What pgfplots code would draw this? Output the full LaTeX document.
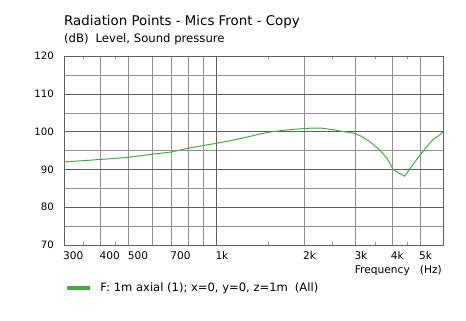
\documentclass[border=0pt]{standalone}
\usepackage{fontspec}
\setmainfont{DejaVu Sans}
\usepackage{pgfplots}
\pgfplotsset{compat=1.18}
\definecolor{curve}{RGB}{76,166,76}
\definecolor{gridmaj}{RGB}{96,96,96}
\definecolor{gridmin}{RGB}{145,145,145}
\begin{document}
\begin{tikzpicture}
\begin{axis}[
  scale only axis, width=379bp, height=189bp,
  anchor=south west, at={(0bp,0bp)},
  xmode=log, xmin=300, xmax=6000, ymin=70, ymax=120,
  /pgf/number format/assume math mode=true,
  xtick={300,400,500,600,700,800,900,2000,3000,4000,5000},
  xticklabels={300,400,500,,700,,,2k,3k,4k,5k},
  extra x ticks={1000}, extra x tick labels={1k},
  extra x tick style={major grid style={gridmaj}},
  minor xtick={350,450,1500,2500,3500,4500},
  ytick={70,75,...,120},
  yticklabels={70,,80,,90,,100,,110,,120},
  extra y ticks={80,90,100,110}, extra y tick labels={},
  extra y tick style={major grid style={gridmaj}},
  xmajorgrids, ymajorgrids,
  major grid style={gridmin},
  major tick length=0pt,
  minor tick length=3bp,
  minor tick style={gridmin},
  axis line style={gridmaj},
  tick style={gridmin},
  xticklabel style={anchor=north west, inner sep=0pt, xshift=-1bp, yshift=-6bp, font=\fontsize{10.6}{12}\selectfont},
  yticklabel style={anchor=east, inner sep=0pt, xshift=-10bp, font=\fontsize{10.2}{12}\selectfont},
  legend style={at={(axis description cs:0.0026,-0.2275)}, anchor=west, draw=none, fill=none,
    inner sep=0pt, outer sep=0pt, font=\fontsize{11.6}{13}\selectfont,
    nodes={inner sep=0pt}, /tikz/every odd column/.append style={column sep=9bp}},
  legend image code/.code={\draw[line width=3.5bp, curve] (0bp,0bp) -- (23bp,0bp);},
]
\addplot[curve, line width=1bp] coordinates {
(300,92.0) (350,92.3) (400,92.65) (450,92.9) (500,93.2) (600,94.0) (700,94.6)
(800,95.6) (900,96.3) (1000,96.9) (1100,97.5) (1200,98.1) (1300,98.7) (1400,99.3)
(1500,99.8) (1700,100.35) (1840,100.6) (2000,100.8) (2100,100.9) (2300,100.9)
(2520,100.5) (2730,100.0) (2990,99.55) (3150,98.7) (3370,97.3) (3640,95.1)
(3860,92.9) (4040,90.1) (4150,89.4) (4430,88.2) (4670,90.7) (5000,93.8)
(5390,96.9) (5530,97.8) (6000,99.8)
};
\addlegendentry{F: 1m axial (1); x=0, y=0, z=1m\hspace{7bp}(All)}
\end{axis}
\node[anchor=base west, inner sep=0pt, font=\fontsize{13.4}{15}\selectfont] at (0bp,219bp) {Radiation Points - Mics Front - Copy};
\node[anchor=base west, inner sep=0pt, font=\fontsize{11.7}{13}\selectfont] at (0bp,202bp) {(dB)\hspace{7bp}Level, Sound pressure};
\node[anchor=base east, inner sep=0pt, font=\fontsize{10.7}{12}\selectfont] at (378bp,-28bp) {Frequency\hspace{10bp}(Hz)};
\path[use as bounding box] (-64bp,-76bp) rectangle (402bp,245bp);
\end{tikzpicture}
\end{document}
